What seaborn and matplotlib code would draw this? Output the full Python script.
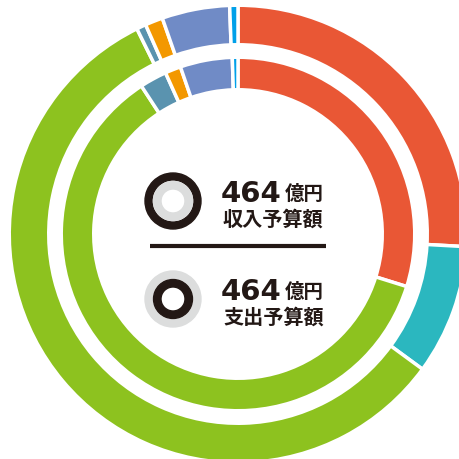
import matplotlib
matplotlib.use("Agg")
import matplotlib.pyplot as plt
from matplotlib.patches import Annulus
import seaborn as sns

revenue_values = [120.1, 42.6, 267.5, 3.1, 5.8, 22.2, 2.7]
revenue_keys = ["red", "teal", "green", "steel", "orange", "blue", "cyan"]
expense_values = [138.3, 283.0, 11.5, 6.7, 22.1, 2.4]
expense_keys = ["red", "green", "steel", "orange", "blue", "cyan"]

block_labels = ["収入予算額", "支出予算額"]
unit_label = "億円"

colors = {
    "red": "#E95735",
    "teal": "#2BB7BF",
    "green": "#8DC21F",
    "steel": "#5A93AF",
    "orange": "#F39800",
    "blue": "#708BC6",
    "cyan": "#00A0E9",
}
ink = "#231815"
light = "#DCDDDD"

sns.set_style("white")
plt.rcParams['font.family'] = ['DejaVu Sans', 'Noto Sans CJK JP']

fig = plt.figure(figsize=(4.59, 4.60), dpi=100)
ax = fig.add_axes([0, 0, 1, 1])

center = (238, 225)
gap = dict(edgecolor="white", linewidth=2.5)

# outer ring = revenue, inner ring = expenditure
ax.pie(revenue_values, colors=sns.color_palette([colors[k] for k in revenue_keys]),
       center=center, radius=228.75, startangle=90, counterclock=False,
       wedgeprops=dict(width=39.5, **gap))
ax.pie(expense_values, colors=sns.color_palette([colors[k] for k in expense_keys]),
       center=center, radius=176.75, startangle=90, counterclock=False,
       wedgeprops=dict(width=32.5, **gap))

ax.set_xlim(0, 459)
ax.set_ylim(0, 460)
ax.set_aspect("auto")
ax.axis("off")

totals = [sum(revenue_values), sum(expense_values)]
icon_y = [258, 160]
for i, (total, label, y) in enumerate(zip(totals, block_labels, icon_y)):
    outer_c, inner_c = (ink, light) if i == 0 else (light, ink)
    ax.add_patch(Annulus((173, y), 28, 7, color=outer_c))
    ax.add_patch(Annulus((173, y), 19.5, 7.5, color=inner_c))
    ax.text(221, y, f"{round(total)}", fontsize=21, fontweight="bold",
            color=ink, ha="left", va="baseline")
    ax.text(285, y + 8, unit_label, fontsize=14, fontweight="bold",
            color=ink, ha="left", va="center", family=['Noto Sans CJK JP'])
    ax.text(223, y - 17, label, fontsize=14.5, fontweight="bold",
            color=ink, ha="left", va="center", family=['Noto Sans CJK JP'])

ax.plot([150, 326], [213, 213], color=ink, lw=3, solid_capstyle="butt")

fig.savefig("out.png", dpi=100)
